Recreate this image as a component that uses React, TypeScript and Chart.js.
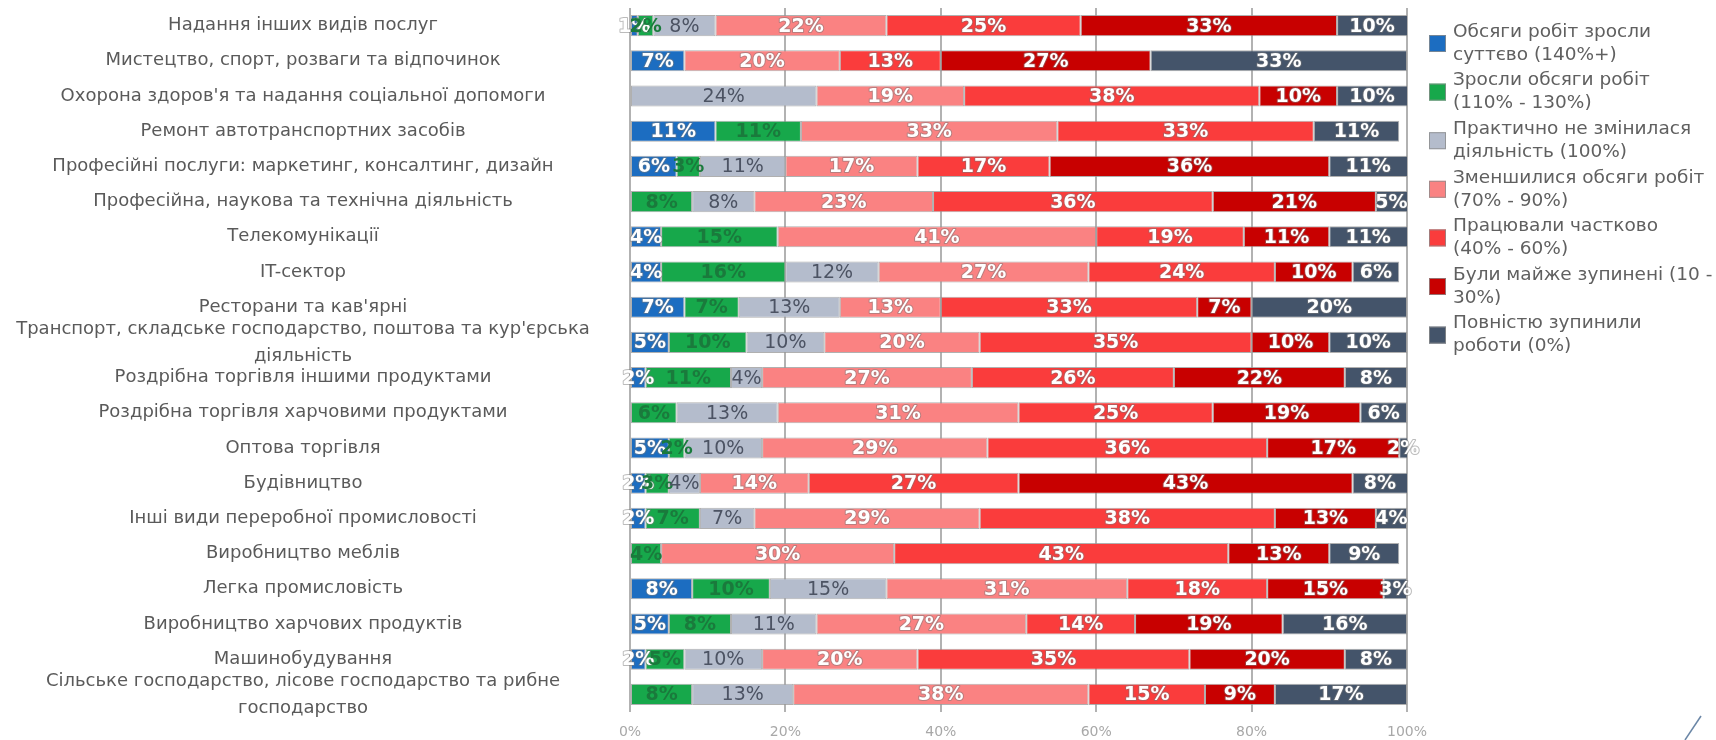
import React, { useEffect, useRef } from "react";
import { Chart, registerables } from "chart.js";

Chart.register(...registerables);

const categories: (string | string[])[] = [
  "Надання інших видів послуг",
  "Мистецтво, спорт, розваги та відпочинок",
  "Охорона здоров'я та надання соціальної допомоги",
  "Ремонт автотранспортних засобів",
  "Професійні послуги: маркетинг, консалтинг, дизайн",
  "Професійна, наукова та технічна діяльність",
  "Телекомунікації",
  "IT-сектор",
  "Ресторани та кав'ярні",
  ["Транспорт, складське господарство, поштова та кур'єрська", "діяльність"],
  "Роздрібна торгівля іншими продуктами",
  "Роздрібна торгівля харчовими продуктами",
  "Оптова торгівля",
  "Будівництво",
  "Інші види переробної промисловості",
  "Виробництво меблів",
  "Легка промисловість",
  "Виробництво харчових продуктів",
  "Машинобудування",
  ["Сільське господарство, лісове господарство та рибне", "господарство"],
];

const seriesNames: string[][] = [
  ["Обсяги робіт зросли", "суттєво (140%+)"],
  ["Зросли обсяги робіт", "(110% - 130%)"],
  ["Практично не змінилася", "діяльність (100%)"],
  ["Зменшилися обсяги робіт", "(70% - 90%)"],
  ["Працювали частково", "(40% - 60%)"],
  ["Були майже зупинені (10 -", "30%)"],
  ["Повністю зупинили", "роботи (0%)"],
];

const grewStrongly = [1, 7, 0, 11, 6, 0, 4, 4, 7, 5, 2, 0, 5, 2, 2, 0, 8, 5, 2, 0];
const grew = [2, 0, 0, 11, 3, 8, 15, 16, 7, 10, 11, 6, 2, 3, 7, 4, 10, 8, 5, 8];
const unchanged = [8, 0, 24, 0, 11, 8, 0, 12, 13, 10, 4, 13, 10, 4, 7, 0, 15, 11, 10, 13];
const decreased = [22, 20, 19, 33, 17, 23, 41, 27, 13, 20, 27, 31, 29, 14, 29, 30, 31, 27, 20, 38];
const partial = [25, 13, 38, 33, 17, 36, 19, 24, 33, 35, 26, 25, 36, 27, 38, 43, 18, 14, 35, 15];
const almostStopped = [33, 27, 10, 0, 36, 21, 11, 10, 7, 10, 22, 19, 17, 43, 13, 13, 15, 19, 20, 9];
const stopped = [10, 33, 10, 11, 11, 5, 11, 6, 20, 10, 8, 6, 2, 8, 4, 9, 3, 16, 8, 17];

const xTicks = [0, 20, 40, 60, 80, 100];

const seriesValues = [grewStrongly, grew, unchanged, decreased, partial, almostStopped, stopped];
const seriesColors = ["#1c6dc1", "#17a84b", "#b4bccc", "#fa8282", "#fa3c3c", "#c80000", "#44546a"];
const labelColors = ["#ffffff", "#1a7a3c", "#4c5363", "#ffffff", "#ffffff", "#ffffff", "#ffffff"];
const labelWeights = ["bold", "bold", "normal", "bold", "bold", "bold", "bold"];

const FONT = '"DejaVu Sans", Verdana, sans-serif';

export default function App() {
  const ref = useRef<HTMLCanvasElement | null>(null);

  useEffect(() => {
    if (!ref.current) return;
    const meas = document.createElement("canvas").getContext("2d")!;
    meas.font = `18px ${FONT}`;
    let widest = 0;
    categories.forEach((c) => {
      (Array.isArray(c) ? c : [c]).forEach((l) => {
        widest = Math.max(widest, meas.measureText(l).width);
      });
    });
    const yTickLen = Math.max(0, 630 - 303 - widest / 2 - 4);

    const labelPlugin = {
      id: "segLabels",
      afterDatasetsDraw(chart: any) {
        const ctx = chart.ctx;
        const area = chart.chartArea;
        ctx.save();
        chart.data.datasets.forEach((ds: any, di: number) => {
          const meta = chart.getDatasetMeta(di);
          meta.data.forEach((el: any, i: number) => {
            const v = ds.data[i];
            if (!v) return;
            const p = el.getProps(["x", "base", "y"], true);
            const cx = (Math.min(p.x, area.right) + p.base) / 2;
            ctx.font = `${labelWeights[di]} 19px ${FONT}`;
            ctx.textAlign = "center";
            ctx.textBaseline = "middle";
            const txt = v + "%";
            if (labelColors[di] === "#ffffff") {
              ctx.lineWidth = 2;
              ctx.strokeStyle = "rgba(120,120,120,0.5)";
              ctx.lineJoin = "round";
              ctx.strokeText(txt, cx, p.y + 1);
            }
            ctx.fillStyle = labelColors[di];
            ctx.fillText(txt, cx, p.y + 1);
          });
        });
        ctx.restore();
      },
    };

    const legendPlugin = {
      id: "sideLegend",
      afterDraw(chart: any) {
        const ctx = chart.ctx;
        ctx.save();
        const x0 = 1429;
        const firstBox = 43.5;
        const step = 48.6;
        const lh = 23;
        seriesNames.forEach((lines, i) => {
          const cy = firstBox + i * step;
          ctx.fillStyle = seriesColors[i];
          ctx.fillRect(x0, cy - 8.5, 17, 17);
          ctx.strokeStyle = "rgba(140,140,140,0.8)";
          ctx.lineWidth = 1;
          ctx.strokeRect(x0 + 0.5, cy - 8, 16, 16);
          ctx.font = `18.5px ${FONT}`;
          ctx.fillStyle = "#606060";
          ctx.textAlign = "left";
          ctx.textBaseline = "middle";
          lines.forEach((l, k) => ctx.fillText(l, 1453, cy - lh / 2 + k * lh));
        });
        ctx.strokeStyle = "#6a86a6";
        ctx.lineWidth = 1.5;
        ctx.beginPath();
        ctx.moveTo(1701, 716);
        ctx.lineTo(1685, 740);
        ctx.stroke();
        ctx.restore();
      },
    };

    const chart = new Chart(ref.current, {
      type: "bar",
      data: {
        labels: categories,
        datasets: seriesValues.map((vals, i) => ({
          label: seriesNames[i].join(" "),
          data: vals,
          backgroundColor: seriesColors[i],
          borderColor: "rgba(150,150,150,0.75)",
          borderWidth: 1,
          borderSkipped: false,
          barPercentage: 0.6,
          categoryPercentage: 1,
        })),
      },
      options: {
        indexAxis: "y",
        animation: false,
        responsive: true,
        maintainAspectRatio: false,
        layout: { padding: { top: 8, right: 1716 - 1407, left: 0, bottom: 0 } },
        scales: {
          x: {
            stacked: true,
            min: xTicks[0],
            max: xTicks[xTicks.length - 1],
            afterBuildTicks: (s: any) => {
              s.ticks = xTicks.map((v) => ({ value: v }));
            },
            afterFit: (s: any) => {
              s.height = 28;
            },
            ticks: {
              callback: (v: any) => v + "%",
              color: "#a8a8a8",
              font: { family: FONT, size: 14 },
              padding: 12,
            },
            grid: { color: "#b2b2b2", lineWidth: 2, drawTicks: false },
            border: { display: false },
          },
          y: {
            stacked: true,
            grid: {
              display: true,
              drawOnChartArea: false,
              drawTicks: true,
              tickLength: yTickLen,
              tickColor: "rgba(0,0,0,0)",
            },
            border: { display: false },
            afterFit: (s: any) => {
              s.width = 630;
              s.paddingTop = 0;
              s.paddingBottom = 0;
            },
            ticks: {
              autoSkip: false,
              crossAlign: "center",
              color: "#5a5a5a",
              font: { family: FONT, size: 18, lineHeight: 1.5 },
              padding: 4,
            },
          },
        },
        plugins: {
          legend: { display: false },
          tooltip: { enabled: false },
        },
      },
      plugins: [labelPlugin, legendPlugin],
    } as any);

    return () => chart.destroy();
  }, []);

  return (
    <div style={{ position: "absolute", left: 0, top: 0, width: 1716, height: 740, background: "#fff" }}>
      <canvas ref={ref} />
    </div>
  );
}
